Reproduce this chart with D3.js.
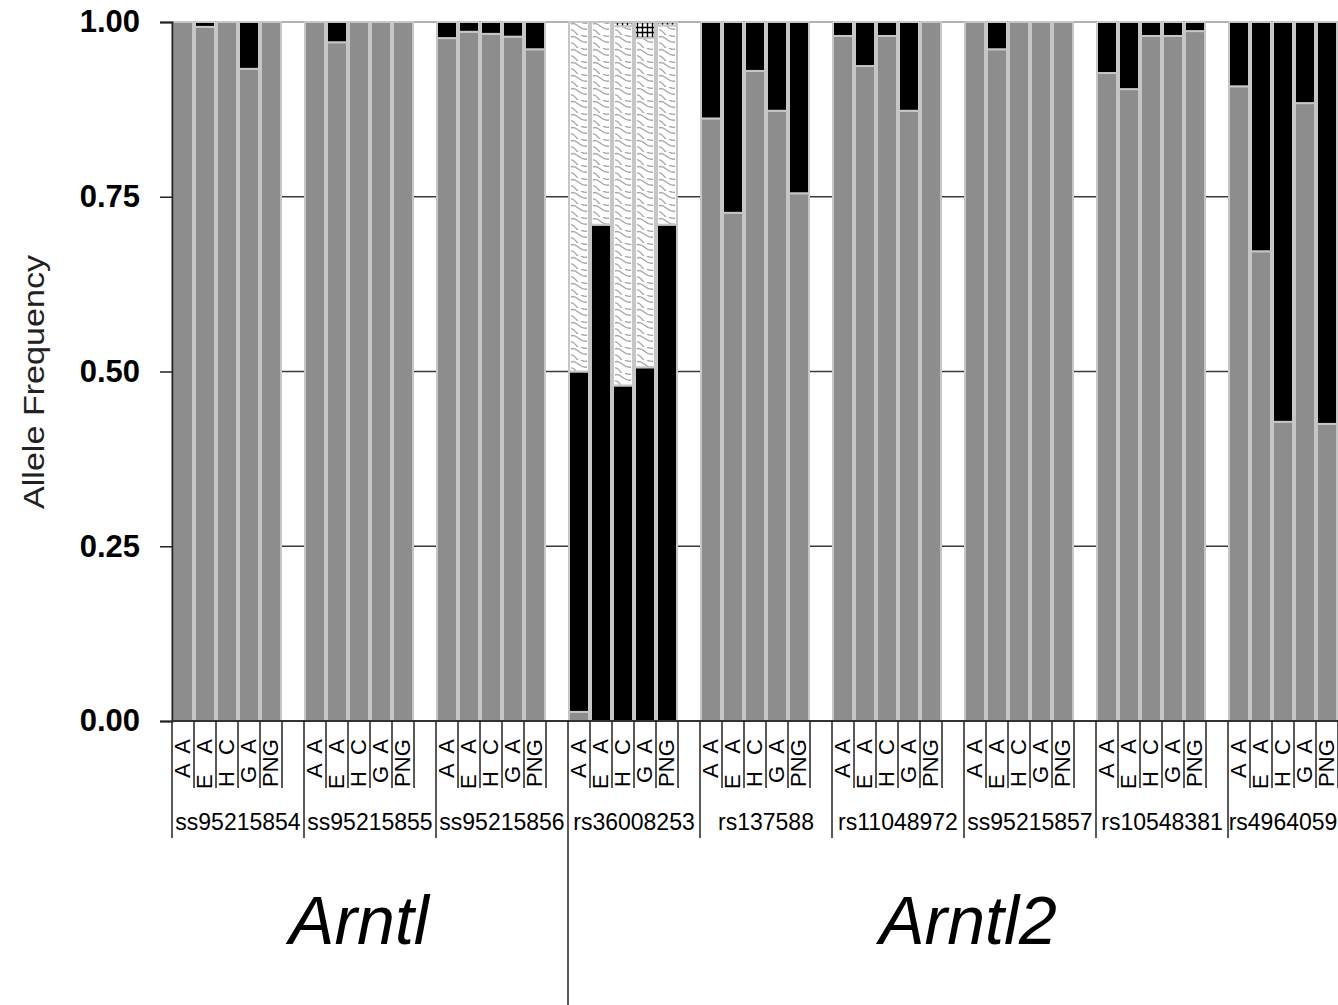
<!DOCTYPE html>
<html>
<head>
<meta charset="utf-8">
<script src="https://cdn.jsdelivr.net/npm/d3@7/dist/d3.min.js"></script>
<style>
  body { margin: 0; background: #fff; }
  svg { display: block; font-family: "Liberation Sans", Arial, sans-serif; }
</style>
</head>
<body>
<div id="chart"></div>
<script>
// SNP markers, populations and genes
var snps = ["ss95215854", "ss95215855", "ss95215856", "rs36008253", "rs137588",
            "rs11048972", "ss95215857", "rs10548381", "rs4964059"];
var pops = ["AA", "EA", "HC", "GA", "PNG"];
var popLabels = ["A A", "E A", "H C", "G A", "PNG"];
var geneNames = ["Arntl", "Arntl2"];
var geneSnpCount = [3, 6];
var yTicks = [0, 0.25, 0.5, 0.75, 1];

// allele frequencies per snp (rows) and population (columns)
var freqGray = [
  [1.000, 0.993, 1.000, 0.933, 1.000],
  [1.000, 0.971, 1.000, 1.000, 1.000],
  [0.977, 0.986, 0.983, 0.979, 0.961],
  [0.013, 0.000, 0.000, 0.000, 0.000],
  [0.862, 0.727, 0.930, 0.873, 0.755],
  [0.980, 0.937, 0.980, 0.873, 1.000],
  [1.000, 0.961, 1.000, 1.000, 1.000],
  [0.927, 0.904, 0.980, 0.980, 0.987],
  [0.908, 0.672, 0.428, 0.884, 0.425]
];
var freqBlack = [
  [0.000, 0.007, 0.000, 0.067, 0.000],
  [0.000, 0.029, 0.000, 0.000, 0.000],
  [0.023, 0.014, 0.017, 0.021, 0.039],
  [0.487, 0.710, 0.480, 0.506, 0.710],
  [0.138, 0.273, 0.070, 0.127, 0.245],
  [0.020, 0.063, 0.020, 0.127, 0.000],
  [0.000, 0.039, 0.000, 0.000, 0.000],
  [0.073, 0.096, 0.020, 0.020, 0.013],
  [0.092, 0.328, 0.572, 0.116, 0.575]
];
var freqWave = [
  [0, 0, 0, 0, 0],
  [0, 0, 0, 0, 0],
  [0, 0, 0, 0, 0],
  [0.500, 0.290, 0.514, 0.471, 0.285],
  [0, 0, 0, 0, 0],
  [0, 0, 0, 0, 0],
  [0, 0, 0, 0, 0],
  [0, 0, 0, 0, 0],
  [0, 0, 0, 0, 0]
];
var freqHatch = [
  [0, 0, 0, 0, 0],
  [0, 0, 0, 0, 0],
  [0, 0, 0, 0, 0],
  [0.000, 0.000, 0.006, 0.023, 0.005],
  [0, 0, 0, 0, 0],
  [0, 0, 0, 0, 0],
  [0, 0, 0, 0, 0],
  [0, 0, 0, 0, 0],
  [0, 0, 0, 0, 0]
];

var rows = [];
snps.forEach(function(s, i) {
  pops.forEach(function(p, j) {
    rows.push({ snp: s, pop: p, gray: freqGray[i][j], black: freqBlack[i][j],
                wave: freqWave[i][j], hatch: freqHatch[i][j] });
  });
});

var W = 1338, H = 1005;
var plotLeft = 172, plotTop = 22, plotBottom = 721;
var groupW = 132, barsW = 110;
// label lengths along the rotated text, as measured on the original
var popLabelLen = { AA: 39, EA: 50, HC: 48, GA: 44, PNG: 48 };
var geneLabelShift = [-11, 4];

var svg = d3.select("#chart").append("svg")
  .attr("width", W).attr("height", H);

svg.append("rect").attr("width", W).attr("height", H).attr("fill", "#fff");

var x0 = d3.scaleBand().domain(snps).range([plotLeft, plotLeft + snps.length * groupW]);
var x1 = d3.scaleBand().domain(pops).range([0, barsW]);
var y = d3.scaleLinear().domain([0, 1]).range([plotBottom, plotTop]);

// patterns
var defs = svg.append("defs");
var wave = defs.append("pattern")
  .attr("id", "wave").attr("patternUnits", "userSpaceOnUse")
  .attr("x", x0(snps[3])).attr("y", plotTop)
  .attr("width", x1.bandwidth()).attr("height", 13);
wave.append("rect").attr("width", x1.bandwidth()).attr("height", 13).attr("fill", "#fff");
wave.append("path")
  .attr("d", "M3,2 C9,-1 11,9 19,7 M3,8 C6,7 8,12 10,13 M13,0 C15,1 17,2 19,1")
  .attr("fill", "none").attr("stroke", "#a8a8a8").attr("stroke-width", 1.4);

var hatch = defs.append("pattern")
  .attr("id", "hatch").attr("patternUnits", "userSpaceOnUse")
  .attr("width", 5).attr("height", 5);
hatch.append("rect").attr("width", 5).attr("height", 5).attr("fill", "#fff");
hatch.append("path")
  .attr("d", "M2.5,0 V5 M0,2.5 H5")
  .attr("stroke", "#000").attr("stroke-width", 1.4);

// gridlines
svg.append("g").selectAll("line")
  .data(yTicks.filter(function(d) { return d > 0; }))
  .enter().append("line")
  .attr("x1", plotLeft).attr("x2", x0.range()[1])
  .attr("y1", function(d) { return y(d); })
  .attr("y2", function(d) { return y(d); })
  .attr("stroke", function(d) { return d === 1 ? "#9a9a9a" : "#3a3a3a"; })
  .attr("stroke-width", 1.5);

// stacked bars
var keys = ["gray", "black", "wave", "hatch"];
var fills = { gray: "#8d8d8d", black: "#000", wave: "url(#wave)", hatch: "url(#hatch)" };
var stack = d3.stack().keys(keys);
var series = stack(rows);

svg.append("g").selectAll("g")
  .data(series)
  .enter().append("g")
  .attr("fill", function(d) { return fills[d.key]; })
  .selectAll("rect")
  .data(function(d) { return d.filter(function(s) { return s[1] - s[0] > 0; }); })
  .enter().append("rect")
  .attr("x", function(d) { return x0(d.data.snp) + x1(d.data.pop) + 1; })
  .attr("width", x1.bandwidth() - 2)
  .attr("y", function(d) { return y(d[1]); })
  .attr("height", function(d) { return y(d[0]) - y(d[1]); })
  .attr("stroke", "#c6c6c6")
  .attr("stroke-width", 2);

// y axis
var yAxis = svg.append("g")
  .attr("transform", "translate(" + plotLeft + ",0)")
  .call(d3.axisLeft(y).tickValues(yTicks).tickFormat(d3.format(".2f"))
    .tickSize(12).tickPadding(20));
yAxis.select(".domain").attr("stroke", "#222").attr("stroke-width", 2);
yAxis.selectAll(".tick line").attr("stroke", "#222").attr("stroke-width", 1.5);
yAxis.selectAll("text")
  .attr("font-size", "31px").attr("font-weight", "bold")
  .attr("font-family", "Liberation Sans, Arial, sans-serif")
  .attr("fill", "#000");

svg.append("text")
  .attr("transform", "translate(44,382) rotate(-90)")
  .attr("text-anchor", "middle")
  .attr("font-size", "30px")
  .attr("textLength", 254)
  .attr("lengthAdjust", "spacingAndGlyphs")
  .attr("fill", "#222")
  .text("Allele Frequency");

// x axis line
svg.append("line")
  .attr("x1", plotLeft).attr("x2", W)
  .attr("y1", plotBottom).attr("y2", plotBottom)
  .attr("stroke", "#333").attr("stroke-width", 2);

// category ticks and labels
var groups = svg.append("g").selectAll("g")
  .data(snps)
  .enter().append("g")
  .attr("transform", function(d) { return "translate(" + x0(d) + ",0)"; });

groups.selectAll(".sep")
  .data(d3.range(pops.length + 1))
  .enter().append("line")
  .attr("x1", function(i) { return i < pops.length ? x1(pops[i]) : barsW; })
  .attr("x2", function(i) { return i < pops.length ? x1(pops[i]) : barsW; })
  .attr("y1", plotBottom)
  .attr("y2", function(i) { return i === 0 ? 838 : 788; })
  .attr("stroke", "#222").attr("stroke-width", 1.5);

groups.selectAll(".pop")
  .data(pops)
  .enter().append("text")
  .attr("transform", function(d) {
    return "translate(" + (x1(d) + x1.bandwidth() / 2 - 0.5) + ",739) rotate(-90)";
  })
  .attr("text-anchor", "end")
  .attr("dy", "0.35em")
  .attr("font-size", "22px")
  .attr("textLength", function(d) { return popLabelLen[d]; })
  .attr("lengthAdjust", "spacing")
  .attr("fill", "#000")
  .text(function(d, i) { return popLabels[i]; });

// snp names, centred on the visible part of each group
groups.append("text")
  .attr("x", function(d) {
    var a = x0(d), b = Math.min(a + groupW, W);
    return (b - a) / 2;
  })
  .attr("y", 830)
  .attr("text-anchor", "middle")
  .attr("font-size", "23px")
  .attr("fill", "#000")
  .text(function(d) { return d; });

// gene labels
var start = 0;
geneNames.forEach(function(g, i) {
  var a = x0(snps[start]);
  var b = x0(snps[start + geneSnpCount[i] - 1]) + groupW;
  if (i > 0) {
    svg.append("line")
      .attr("x1", a).attr("x2", a)
      .attr("y1", 838).attr("y2", H)
      .attr("stroke", "#222").attr("stroke-width", 1.5);
  }
  svg.append("text")
    .attr("x", (a + b) / 2 + geneLabelShift[i])
    .attr("y", 944)
    .attr("text-anchor", "middle")
    .attr("font-size", "68px")
    .attr("font-style", "italic")
    .attr("fill", "#000")
    .text(g);
  start += geneSnpCount[i];
});
</script>
</body>
</html>
